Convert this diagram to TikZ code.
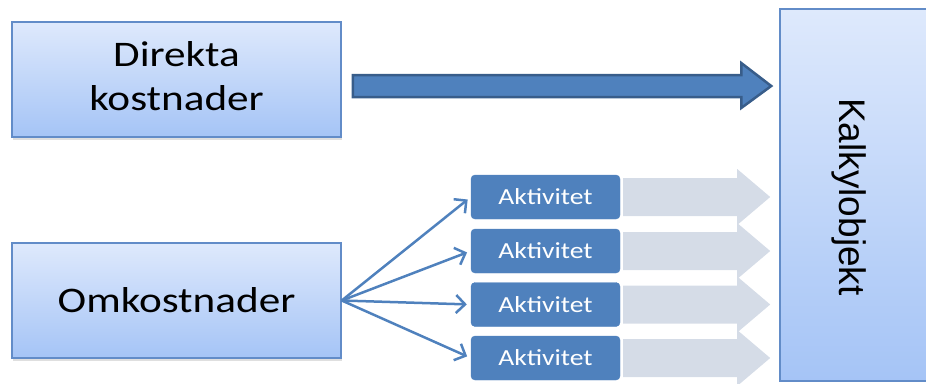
\documentclass[tikz,border=0pt]{standalone}
\usepackage{fontspec}
\setmainfont{Carlito}
\newfontfamily\kalfont{Liberation Sans}
\usetikzlibrary{calc,shadows,arrows.meta}
\definecolor{boxtop}{RGB}{222,233,252}
\definecolor{boxbot}{RGB}{165,196,246}
\definecolor{boxline}{RGB}{98,140,200}
\definecolor{accent}{RGB}{79,129,189}
\definecolor{accentdark}{RGB}{56,93,138}
\definecolor{flowgrey}{RGB}{213,220,231}
\newcommand{\widetxt}[1]{\scalebox{1.2}[1]{#1}}

\begin{document}
\begin{tikzpicture}[x=1pt,y=-1pt,
  costbox/.style={draw=boxline, line width=1.5pt, top color=boxtop, bottom color=boxbot,
    minimum width=329pt, minimum height=115pt, inner sep=0pt,
    drop shadow={shadow xshift=1pt, shadow yshift=-3pt, opacity=0.25}},
  targetbox/.style={draw=boxline, line width=1.5pt, top color=boxtop, bottom color=boxbot,
    minimum width=300pt, minimum height=372pt, inner sep=0pt},
  actbox/.style={fill=accent, draw=accent, rounded corners=4pt, minimum width=149pt,
    minimum height=44pt, inner sep=0pt, text=white},
  bigarrow/.style={fill=accent, draw=accentdark, line width=2.5pt, line join=miter},
  flowarrow/.style={fill=flowgrey},
  fan/.style={draw=accent, line width=2.5pt, -{Straight Barb[length=9pt,width=18pt]}, shorten >=4pt}
]
\useasboundingbox (0,0) rectangle (926,383);

% cost boxes
\node[costbox] (dir) at (176.5,79.5)
  {\widetxt{\fontsize{36}{44}\selectfont\begin{tabular}{@{}c@{}}Direkta\\kostnader\end{tabular}}};
\node[costbox] (omk) at (176.5,300.5)
  {\widetxt{\fontsize{36}{44}\selectfont Omkostnader}};

% activities
\foreach \i/\y in {1/197,2/251,3/304.5,4/358}{
  \node[actbox] (a\i) at (545.5,\y) {\widetxt{\fontsize{23}{27}\selectfont Aktivitet}};
}

% pale block arrows carrying each activity forward
\foreach \i in {1,...,4}{
  \fill[flowarrow] ($(a\i.east)+(3,-19)$) -- ($(a\i.east)+(117,-19)$) -- ($(a\i.east)+(117,-28)$)
    -- ($(a\i.east)+(150,0)$) -- ($(a\i.east)+(117,28)$) -- ($(a\i.east)+(117,19)$)
    -- ($(a\i.east)+(3,19)$) -- cycle;
}

% cost object, running past the right edge
\node[targetbox] (kal) at (930,195) {};
\node[rotate=-90, anchor=base, font=\kalfont\fontsize{37}{44}\selectfont] (kaltxt)
  at ($(kal.west)+(60,2)$) {Kalkylobjekt};

% direct costs go straight to the cost object
\coordinate (bs) at ($(dir.east)+(11,6.5)$);
\coordinate (be) at ($(kal.west)+(-8,-109)$);
\draw[bigarrow] ($(bs)+(0,-11)$) -- ($(be)+(-30,-11)$) -- ($(be)+(-30,-23)$) -- (be)
  -- ($(be)+(-30,22)$) -- ($(be)+(-30,11)$) -- ($(bs)+(0,11)$) -- cycle;

% overheads are spread over the activities
\foreach \i in {1,...,4}{
  \draw[fan] (omk.east) -- (a\i.west);
}
\end{tikzpicture}
\end{document}
